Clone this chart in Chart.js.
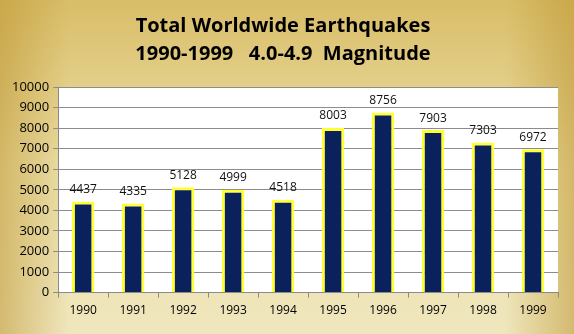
<!DOCTYPE html>
<html>
<head>
<meta charset="utf-8">
<script src="https://cdn.jsdelivr.net/npm/chart.js@4"></script>
<style>
  html, body { margin: 0; padding: 0; }
  #wrap { width: 574px; height: 334px; }
</style>
</head>
<body>
<div id="wrap"><canvas id="quakeChart"></canvas></div>
<script>
// data
const years = ["1990", "1991", "1992", "1993", "1994", "1995", "1996", "1997", "1998", "1999"];
const quakes = [4437, 4335, 5128, 4999, 4518, 8003, 8756, 7903, 7303, 6972];
const titleLines = ["Total Worldwide Earthquakes", "1990-1999   4.0-4.9  Magnitude"];

const FONT = "'Open Sans', 'Noto Sans', sans-serif";

// gold backdrop + white plot area
const backdrop = {
  id: "backdrop",
  beforeDraw(chart) {
    const { ctx, width, height, chartArea } = chart;
    ctx.save();
    const g = ctx.createLinearGradient(0, 0, 0, height);
    g.addColorStop(0, "#d9bd68");
    g.addColorStop(0.5, "#ece0a8");
    g.addColorStop(1, "#efe6bd");
    ctx.fillStyle = g;
    ctx.fillRect(0, 0, width, height);
    // darker sides
    const h = ctx.createLinearGradient(0, 0, width, 0);
    h.addColorStop(0, "rgba(190,150,50,0.55)");
    h.addColorStop(0.12, "rgba(190,150,50,0)");
    h.addColorStop(0.88, "rgba(190,150,50,0)");
    h.addColorStop(1, "rgba(190,150,50,0.55)");
    ctx.fillStyle = h;
    ctx.fillRect(0, 0, width, height);
    ctx.fillStyle = "#ffffff";
    ctx.fillRect(chartArea.left, chartArea.top, chartArea.right - chartArea.left, chartArea.bottom - chartArea.top);
    ctx.restore();
  }
};

// value above each bar
const valueLabels = {
  id: "valueLabels",
  afterDatasetsDraw(chart) {
    const { ctx } = chart;
    const meta = chart.getDatasetMeta(0);
    ctx.save();
    ctx.font = "12px " + FONT;
    ctx.fillStyle = "#111";
    ctx.textAlign = "center";
    ctx.textBaseline = "bottom";
    meta.data.forEach((bar, i) => {
      ctx.fillText(quakes[i], bar.x, bar.y - 6);
    });
    ctx.restore();
  }
};

new Chart(document.getElementById("quakeChart"), {
  type: "bar",
  data: {
    labels: years,
    datasets: [{
      label: "Earthquakes",
      data: quakes,
      backgroundColor: "#0a215c",
      borderColor: "#ffff33",
      borderWidth: 3,
      barPercentage: 0.45,
      categoryPercentage: 1
    }]
  },
  options: {
    responsive: true,
    maintainAspectRatio: false,
    animation: false,
    layout: { padding: { left: 8, right: 16, top: 0, bottom: 10 } },
    plugins: {
      legend: { display: false },
      tooltip: { enabled: false },
      title: {
        display: true,
        text: titleLines,
        color: "#000",
        font: { family: FONT, size: 20, weight: "bold", lineHeight: 1.4 },
        padding: { top: 12, bottom: 19 }
      }
    },
    scales: {
      x: {
        grid: { drawOnChartArea: false, offset: true, tickLength: 5, color: "#8a8a8a" },
        border: { color: "#8a8a8a" },
        ticks: { color: "#000", font: { family: FONT, size: 12 }, padding: 6 }
      },
      y: {
        min: 0,
        max: 10000,
        ticks: {
          stepSize: 1000,
          color: "#000",
          font: { family: FONT, size: 13 },
          padding: 4,
          callback: (v) => String(v)
        },
        grid: { color: "#8c8c8c", tickLength: 5 },
        border: { color: "#8a8a8a" }
      }
    }
  },
  plugins: [backdrop, valueLabels]
});
</script>
</body>
</html>
